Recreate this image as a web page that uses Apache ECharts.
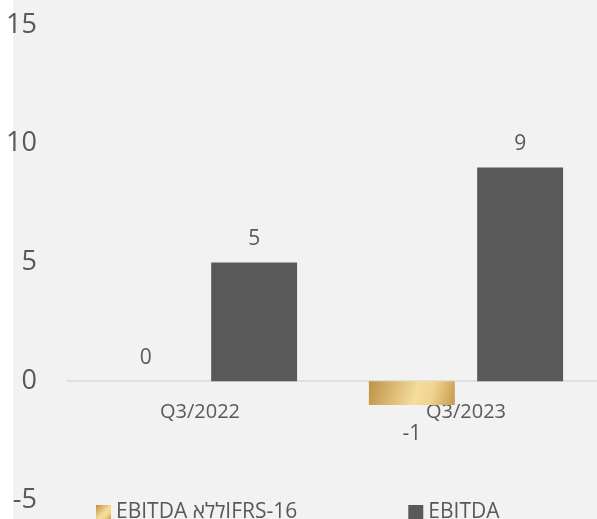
<!DOCTYPE html>
<html>
<head>
<meta charset="utf-8">
<script src="https://cdn.jsdelivr.net/npm/echarts@6/dist/echarts.min.js"></script>
<style>
  html, body { margin: 0; padding: 0; background: #fff; }
  #chart {
    width: 597px;
    height: 519px;
    background: linear-gradient(to right, #ffffff 13px, #f2f2f2 13px);
  }
</style>
</head>
<body>
<div id="chart"></div>
<script>
  // data
  var categories = ['Q3/2022', 'Q3/2023'];
  var seriesNames = ['EBITDA ללאIFRS-16', 'EBITDA'];
  var ebitdaNoIfrs = [0, -1];
  var ebitda = [5, 9];
  var yTicks = { min: -5, max: 15, interval: 5 };

  var fontFamily = '"Open Sans", "Noto Sans", sans-serif';
  var textColor = '#595959';

  // gold fill for first series
  var gold = new echarts.graphic.LinearGradient(0, 0, 1, 1, [
    { offset: 0, color: '#be9245' },
    { offset: 0.55, color: '#f5dd9c' },
    { offset: 0.72, color: '#f0d48e' },
    { offset: 1, color: '#c39a4b' }
  ]);

  function withLabels(values) {
    return values.map(function (v) {
      return {
        value: v,
        label: v < 0 ? { position: 'bottom', distance: 19 } : { position: 'top', distance: 13 }
      };
    });
  }

  var chart = echarts.init(document.getElementById('chart'));
  var option = {
    animation: false,
    grid: { left: 67, right: -2, top: 25, bottom: 19, outerBoundsMode: 'none', containLabel: false },
    legend: {
      left: 91,
      top: 497,
      itemWidth: 15,
      itemHeight: 15,
      itemGap: 111,
      icon: 'rect',
      textStyle: { color: textColor, fontSize: 21, fontFamily: fontFamily },
      data: seriesNames
    },
    xAxis: {
      type: 'category',
      data: categories,
      position: 'bottom',
      // zero sits 119px above the grid bottom (-5..15 over 475px)
      offset: -119,
      axisLine: { onZero: false, lineStyle: { color: '#d9d9d9', width: 1.5 } },
      axisTick: { alignWithLabel: true, length: 6, lineStyle: { color: '#d9d9d9', width: 1.5 } },
      axisLabel: { color: textColor, fontSize: 20, fontFamily: fontFamily, margin: 21 }
    },
    yAxis: {
      type: 'value',
      min: yTicks.min,
      max: yTicks.max,
      interval: yTicks.interval,
      splitLine: { show: false },
      axisLine: { show: false },
      axisTick: { show: false },
      axisLabel: { color: textColor, fontSize: 27, fontFamily: fontFamily, margin: 30 }
    },
    series: [
      {
        name: seriesNames[0],
        type: 'bar',
        data: withLabels(ebitdaNoIfrs),
        itemStyle: { color: gold },
        barGap: '26%',
        barCategoryGap: '27%',
        label: { show: true, color: textColor, fontSize: 21, fontFamily: fontFamily }
      },
      {
        name: seriesNames[1],
        type: 'bar',
        data: withLabels(ebitda),
        itemStyle: { color: '#595959' },
        barGap: '26%',
        barCategoryGap: '27%',
        label: { show: true, color: textColor, fontSize: 21, fontFamily: fontFamily }
      }
    ]
  };
  chart.setOption(option);
</script>
</body>
</html>
